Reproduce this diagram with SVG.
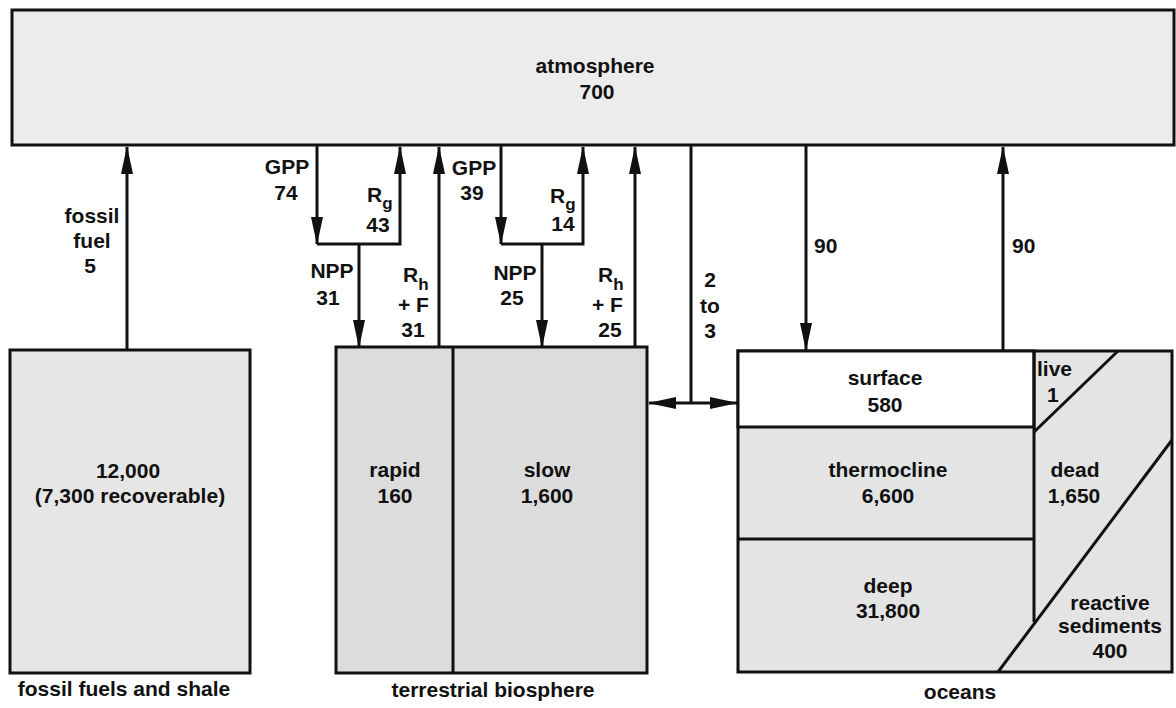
<svg xmlns="http://www.w3.org/2000/svg" width="1176" height="708" viewBox="0 0 1176 708">
<style>
text{font-family:"Liberation Sans",Arial,sans-serif;font-weight:bold;font-size:21px;fill:#111;}
.c{text-anchor:middle;}
.sub{font-size:17px;}
.box{stroke:#111;stroke-width:3;}
.ln{stroke:#111;stroke-width:3;fill:none;}
.flow{stroke:#111;stroke-width:3;fill:none;marker-end:url(#ah);}
</style>
<defs>
<marker id="ah" markerUnits="userSpaceOnUse" markerWidth="30" markerHeight="14" refX="27" refY="6" orient="auto-start-reverse" viewBox="0 0 30 12">
<path d="M0,0 L28,6 L0,12 z" fill="#111"/>
</marker>
</defs>
<rect width="1176" height="708" fill="#fff"/>

<g id="atmosphere">
<rect class="box" x="12" y="10" width="1162" height="135" fill="#ececec"/>
<text class="c" x="595" y="73">atmosphere</text>
<text class="c" x="597" y="99">700</text>
</g>

<g id="fossil-fuels">
<rect class="box" x="10" y="350" width="240" height="323" fill="#e6e6e6"/>
<text class="c" x="128" y="478">12,000</text>
<text class="c" x="130" y="503">(7,300 recoverable)</text>
<text class="c" x="124" y="696">fossil fuels and shale</text>
</g>

<g id="terrestrial-biosphere">
<rect class="box" x="336" y="347" width="311" height="326" fill="#dcdcdc"/>
<line class="ln" x1="453" y1="347" x2="453" y2="673"/>
<g id="rapid">
<text class="c" x="395" y="477">rapid</text>
<text class="c" x="395" y="503">160</text>
</g>
<g id="slow">
<text class="c" x="547" y="477">slow</text>
<text class="c" x="547" y="503">1,600</text>
</g>
<text class="c" x="493" y="697">terrestrial biosphere</text>
</g>

<g id="oceans">
<rect class="box" x="738" y="351" width="434" height="321" fill="#e4e4e4"/>
<g id="surface">
<rect class="box" x="738" y="351" width="296" height="76" fill="#fff"/>
<text class="c" x="885" y="385">surface</text>
<text class="c" x="885" y="412">580</text>
</g>
<g id="thermocline">
<line class="ln" x1="738" y1="539" x2="1034" y2="539"/>
<text class="c" x="888" y="477">thermocline</text>
<text class="c" x="888" y="503">6,600</text>
</g>
<g id="deep">
<text class="c" x="888" y="593">deep</text>
<text class="c" x="888" y="618">31,800</text>
</g>
<line class="ln" x1="1034" y1="351" x2="1034" y2="622"/>
<g id="live">
<line class="ln" x1="1034" y1="432" x2="1118" y2="351"/>
<text x="1037" y="376">live</text>
<text x="1047" y="402">1</text>
</g>
<g id="dead">
<text class="c" x="1075" y="477">dead</text>
<text class="c" x="1074" y="503">1,650</text>
</g>
<g id="reactive-sediments">
<line class="ln" x1="998" y1="672" x2="1172" y2="440"/>
<text class="c" x="1110" y="610">reactive</text>
<text class="c" x="1110" y="633">sediments</text>
<text class="c" x="1110" y="658">400</text>
</g>
<text class="c" x="960" y="699">oceans</text>
</g>

<g id="connectors">
<line class="flow" x1="127" y1="350" x2="127" y2="147"/>
<line class="flow" x1="317" y1="146" x2="317" y2="244"/>
<path class="flow" d="M317,244 H400 V147"/>
<line class="flow" x1="359" y1="244" x2="359" y2="347"/>
<line class="flow" x1="439" y1="347" x2="439" y2="147"/>
<line class="flow" x1="501" y1="146" x2="501" y2="244"/>
<path class="flow" d="M501,244 H583 V147"/>
<line class="flow" x1="542" y1="244" x2="542" y2="347"/>
<line class="flow" x1="635" y1="347" x2="635" y2="147"/>
<line class="ln" x1="691" y1="146" x2="691" y2="403"/>
<line class="flow" x1="649" y1="403" x2="737" y2="403" style="marker-start:url(#ah)"/>
<line class="flow" x1="806" y1="146" x2="806" y2="350"/>
<line class="flow" x1="1003" y1="350" x2="1003" y2="147"/>
</g>

<g id="flow-labels">
<text class="c" x="92" y="223">fossil</text>
<text class="c" x="92" y="248">fuel</text>
<text class="c" x="90" y="273">5</text>

<text class="c" x="287" y="174">GPP</text>
<text class="c" x="286" y="200">74</text>
<text x="367" y="202">R<tspan class="sub" dy="7">g</tspan></text>
<text class="c" x="378" y="232">43</text>
<text class="c" x="332" y="278">NPP</text>
<text class="c" x="328" y="305">31</text>
<text x="403" y="282">R<tspan class="sub" dy="8">h</tspan></text>
<text x="398" y="312">+ F</text>
<text class="c" x="413" y="337">31</text>

<text class="c" x="474" y="175">GPP</text>
<text class="c" x="472" y="200">39</text>
<text x="550" y="203">R<tspan class="sub" dy="7">g</tspan></text>
<text class="c" x="563" y="231">14</text>
<text class="c" x="515" y="280">NPP</text>
<text class="c" x="512" y="305">25</text>
<text x="598" y="282">R<tspan class="sub" dy="8">h</tspan></text>
<text x="592" y="312">+ F</text>
<text class="c" x="610" y="337">25</text>

<text class="c" x="710" y="287">2</text>
<text class="c" x="710" y="313">to</text>
<text class="c" x="710" y="338">3</text>

<text x="814" y="253">90</text>
<text x="1012" y="253">90</text>
</g>
</svg>
